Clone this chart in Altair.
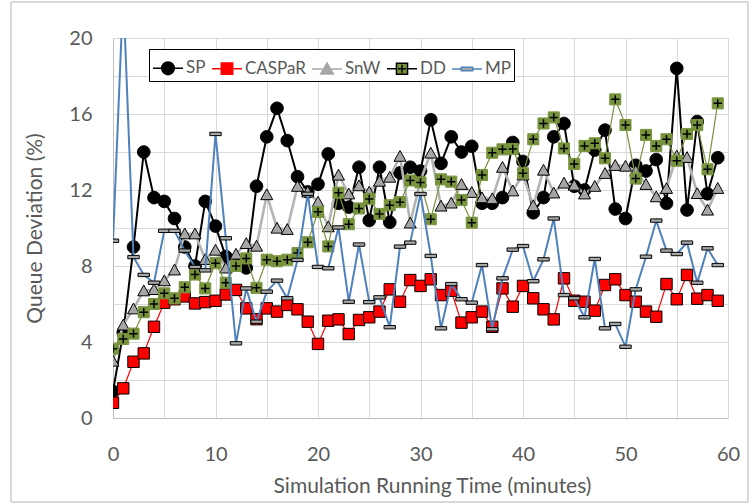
import altair as alt
import pandas as pd

# ---- data -------------------------------------------------------------
minutes = list(range(60))

sp = [1.4, 4.5, 9.0, 14.0, 11.6, 11.4, 10.5, 9.0, 8.0, 11.4,
      10.1, 8.5, 8.2, 7.9, 12.2, 14.8, 16.3, 14.6, 12.7, 11.9,
      12.3, 13.9, 11.3, 11.1, 13.2, 10.4, 13.2, 10.3, 12.9, 13.2,
      13.0, 15.7, 13.4, 14.8, 14.0, 14.3, 11.3, 11.3, 11.6, 14.5,
      13.5, 10.8, 11.6, 14.8, 15.5, 12.2, 12.0, 14.1, 15.15, 11.0,
      10.5, 13.3, 13.0, 13.6, 11.3, 18.4, 10.95, 15.6, 11.8, 13.7]

caspar = [0.8, 1.56, 2.96, 3.4, 4.8, 6.07, 6.25, 6.4, 6.03, 6.1,
          6.17, 6.5, 6.74, 5.77, 5.2, 5.77, 5.6, 5.95, 5.72, 5.07,
          3.9, 5.12, 5.19, 4.42, 5.16, 5.3, 5.6, 6.77, 6.12, 7.26,
          6.95, 7.3, 6.47, 6.7, 5.02, 5.3, 5.6, 4.8, 6.82, 5.86,
          6.95, 6.3, 5.72, 5.19, 7.35, 6.17, 6.12, 5.65, 7.0, 7.3,
          6.47, 6.12, 5.6, 5.33, 7.05, 6.25, 7.53, 6.28, 6.47, 6.17]

snw = [3.0, 4.9, 5.75, 6.7, 6.77, 7.23, 7.8, 9.7, 9.7, 8.35,
       8.84, 7.9, 8.63, 9.19, 9.05, 11.76, 10.0, 9.93, 12.2, 11.9,
       11.37, 10.07, 12.79, 11.8, 12.23, 11.9, 12.47, 12.68, 13.78, 10.27,
       12.5, 13.95, 11.16, 11.32, 12.3, 11.88, 11.6, 11.55, 13.2, 11.96,
       12.8, 11.18, 13.05, 11.85, 12.37, 12.26, 11.8, 12.2, 12.88, 13.3,
       13.26, 13.0, 12.3, 11.65, 12.09, 13.8, 13.72, 11.82, 10.95, 12.09]

dd = [3.65, 4.16, 4.44, 5.57, 6.0, 6.56, 6.3, 6.88, 7.55, 6.82,
      8.15, 7.12, 8.0, 8.4, 6.85, 8.33, 8.25, 8.33, 8.68, 9.25,
      10.85, 9.03, 11.86, 10.2, 11.03, 11.53, 10.74, 11.2, 11.36, 12.5,
      12.4, 10.46, 12.56, 12.44, 11.47, 10.28, 12.79, 13.96, 14.14, 14.16,
      12.88, 14.67, 15.5, 15.82, 14.19, 13.37, 14.32, 14.46, 13.67, 16.77,
      15.42, 12.6, 14.9, 14.32, 14.67, 13.54, 14.95, 15.42, 13.09, 16.56]

mp = [9.33, 22.4, 8.47, 7.53, 7.12, 9.85, 9.85, 8.81, 7.95, 7.77,
      14.95, 9.46, 3.93, 6.82, 5.07, 6.65, 7.23, 6.3, 8.32, 11.8,
      7.95, 7.88, 10.03, 6.12, 9.13, 6.1, 6.35, 4.78, 9.02, 9.23,
      11.79, 8.53, 4.72, 7.05, 6.25, 6.07, 8.05, 4.67, 7.35, 8.86,
      9.05, 7.2, 8.35, 10.5, 6.47, 6.3, 5.3, 8.37, 4.72, 4.95,
      3.75, 6.77, 8.49, 10.39, 8.81, 8.63, 9.23, 7.12, 8.93, 8.05]

series_names = ["SP", "CASPaR", "SnW", "DD", "MP"]
x_grid_values = list(range(0, 61, 5))
y_grid_values = list(range(0, 21, 2))

data = pd.concat(
    [pd.DataFrame({"minute": minutes, "deviation": vals, "series": name})
     for name, vals in zip(series_names, [sp, caspar, snw, dd, mp])],
    ignore_index=True,
)

# ---- styling ----------------------------------------------------------
FONT = "Lato"
TEXT = "#595959"
GREEN = "#77933c"
GREY = "#a6a6a6"

# marker paths on the plot (unit box -1..1)
CIRCLE = "M-1.05,0A1.05,1.05 0 1,0 1.05,0A1.05,1.05 0 1,0 -1.05,0Z"
SQUARE = "M-0.95,-0.95H0.95V0.95H-0.95Z"
TRIANGLE = "M0,-0.95L1,0.85L-1,0.85Z"
DDSQUARE = "M-0.92,-0.92H0.92V0.92H-0.92Z"
PLUS = "M-0.7,0H0.7M0,-0.7V0.7"
DASH = "M-0.95,-0.28H0.95V0.28H-0.95Z"

styles = {
    "SP":     dict(line="#000000", width=2.0, shape=CIRCLE,   fill="#000000", stroke="#000000"),
    "CASPaR": dict(line="#ff0000", width=1.2, shape=SQUARE,   fill="#ff0000", stroke="#000000"),
    "SnW":    dict(line="#b4b4b4", width=2.6, shape=TRIANGLE, fill=GREY,      stroke="#000000"),
    "DD":     dict(line=GREEN,     width=1.2, shape=DDSQUARE, fill=GREEN,     stroke=GREEN),
    "MP":     dict(line="#4f81bd", width=2.0, shape=DASH,     fill=GREY,      stroke="#000000"),
}

x_enc = alt.X(
    "minute:Q",
    scale=alt.Scale(domain=[0, 60], nice=False, zero=False),
    axis=alt.Axis(
        values=x_grid_values,
        labelExpr="datum.value % 10 == 0 ? datum.label : ''",
        labelFlush=False, labelOverlap=False,
        ticks=False, tickSize=0, labelPadding=26,
        labelFont=FONT, labelFontSize=20, labelColor=TEXT,
        domainColor="#bfbfbf", gridColor="#d9d9d9",
        title="Simulation Running Time (minutes)",
        titleFont=FONT, titleFontSize=21, titleFontWeight="normal", titleColor=TEXT,
        titleX=319, titleY=74, titleBaseline="alphabetic", titleAnchor="middle",
    ),
)
y_enc = alt.Y(
    "deviation:Q",
    scale=alt.Scale(domain=[0, 20], nice=False),
    axis=alt.Axis(
        values=y_grid_values,
        labelExpr="datum.value % 4 == 0 ? datum.label : ''",
        labelOverlap=False,
        ticks=False, tickSize=0, labelPadding=21,
        labelFont=FONT, labelFontSize=20, labelColor=TEXT,
        domainColor="#bfbfbf", gridColor="#d9d9d9",
        title="Queue Deviation (%)",
        titleFont=FONT, titleFontSize=21, titleFontWeight="normal", titleColor=TEXT,
        titleX=-78, titleY=190, titleAngle=270, titleBaseline="middle", titleAlign="center",
    ),
)

base = alt.Chart(data)
MARK_SIZE = 144

# each series: line, then its markers (later series drawn on top)
layers = []
for name in series_names:
    st = styles[name]
    sub = base.transform_filter(alt.datum.series == name)
    layers.append(
        sub.mark_line(color=st["line"], strokeWidth=st["width"], clip=True)
        .encode(x=x_enc, y=y_enc)
    )
    layers.append(
        sub.mark_point(shape=st["shape"], size=MARK_SIZE, filled=True, opacity=1,
                       fill=st["fill"], stroke=st["stroke"], strokeWidth=1, clip=True)
        .encode(x=x_enc, y=y_enc)
    )
    if name == "DD":
        layers.append(
            sub.mark_point(shape=PLUS, size=MARK_SIZE, filled=False, opacity=1,
                           stroke="#000000", strokeWidth=1.5, clip=True)
            .encode(x=x_enc, y=y_enc)
        )

# ---- legend: one symbol = short line segment with the marker on it ------
LEG_SIZE = 900  # 30 px symbol cell
legend_shapes = [
    "M-1,0H1M-0.42,0A0.42,0.42 0 1,0 0.42,0A0.42,0.42 0 1,0 -0.42,0Z",
    "M-1,0H-0.38M0.38,0H1M-0.38,-0.38H0.38V0.38H-0.38Z",
    "M-1,0H-0.3M0.3,0H1M0,-0.4L0.42,0.34L-0.42,0.34Z",
    "M-1,0H-0.37M0.37,0H1M-0.37,-0.37H0.37V0.37H-0.37ZM-0.27,0H0.27M0,-0.27V0.27",
    "M-1,0H-0.38M0.38,0H1M-0.38,-0.11H0.38V0.11H-0.38Z",
]
legend_fills = ["#000000", "#ff0000", GREY, GREEN, GREY]
legend_strokes = ["#000000", "#ff0000", GREY, "#000000", "#4f81bd"]

legend_opts = dict(
    orient="none", legendX=36, legendY=11, direction="horizontal", title=None,
    symbolSize=LEG_SIZE, symbolStrokeWidth=1.5, symbolOpacity=1,
    labelFont=FONT, labelFontSize=17, labelColor=TEXT,
    labelOffset=2, columnPadding=3, padding=3,
    fillColor="white", strokeColor="black",
)

legend_layer = base.transform_filter("false").mark_point(filled=True, opacity=1).encode(
    x=x_enc, y=y_enc,
    shape=alt.Shape("series:N",
                    scale=alt.Scale(domain=series_names, range=legend_shapes),
                    legend=alt.Legend(**legend_opts)),
    fill=alt.Fill("series:N",
                  scale=alt.Scale(domain=series_names, range=legend_fills),
                  legend=alt.Legend(**legend_opts)),
    stroke=alt.Stroke("series:N",
                      scale=alt.Scale(domain=series_names, range=legend_strokes),
                      legend=alt.Legend(**legend_opts)),
)

# outer chart-area frame
frame = base.mark_rect(filled=False, stroke="#d9d9d9", strokeWidth=1, clip=False).encode(
    x=alt.value(-102), x2=alt.value(635), y=alt.value(-36), y2=alt.value(464)
)

chart = (
    alt.layer(frame, *layers, legend_layer)
    .properties(
        width=615, height=380, autosize=alt.AutoSizeParams(type="none"),
        padding={"left": 113, "top": 38, "right": 26, "bottom": 86},
        background="white",
    )
    .configure_view(stroke=None)
)

chart.save("out.html", embed_options={"renderer": "svg", "actions": False})
